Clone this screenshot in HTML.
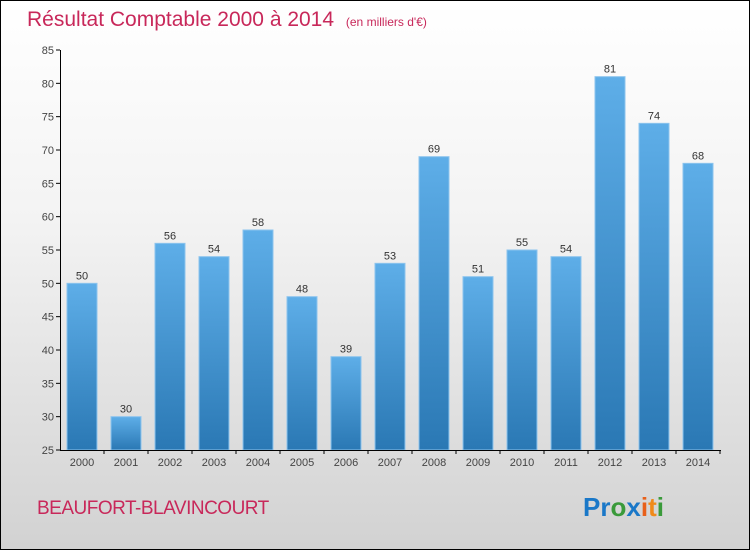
<!DOCTYPE html>
<html><head><meta charset="utf-8"><style>
body{margin:0}
#c{width:748px;height:548px;border:1px solid #000;position:relative;background:linear-gradient(#fff 0%,#f3f3f3 40%,#d2d2d2 100%);font-family:"Liberation Sans",sans-serif;overflow:hidden}
</style></head><body>
<div id="c">
<svg width="748" height="548" id="s">
<defs><linearGradient id="g" x1="0" y1="0" x2="0" y2="1"><stop offset="0" stop-color="#5eaee8"/><stop offset="1" stop-color="#2a78b4"/></linearGradient></defs>
<text x="26" y="25" font-size="21" fill="#c8285a">Résultat Comptable 2000 à 2014 <tspan font-size="12" dx="6">(en milliers d'€)</tspan></text>
<text x="36" y="513" font-size="19" fill="#c8285a" letter-spacing="-0.5">BEAUFORT-BLAVINCOURT</text>
<text x="582" y="515" font-size="26" font-weight="bold"><tspan fill="#1a78c8">Pr</tspan><tspan fill="#3a9a3a">o</tspan><tspan fill="#1a78c8">x</tspan><tspan fill="#e8601a">i</tspan><tspan fill="#f08a1a">t</tspan><tspan fill="#3a9a3a">i</tspan></text>
</svg>
</div>
<script>
const years=["2000","2001","2002","2003","2004","2005","2006","2007","2008","2009","2010","2011","2012","2013","2014"];
const values=[50,30,56,54,58,48,39,53,69,51,55,54,81,74,68];
const ticks=[25,30,35,40,45,50,55,60,65,70,75,80,85];
const s=document.getElementById('s');
const NS="http://www.w3.org/2000/svg";
const y=v=>449-(v-25)*400/60;
const x=i=>81+i*44;
function mk(t,a){const e=document.createElementNS(NS,t);for(const k in a)e.setAttribute(k,a[k]);s.appendChild(e);return e;}
ticks.forEach(t=>{
const l=mk('line',{x1:55,x2:59,y1:y(t),y2:y(t),stroke:'#000'});


const tx=mk('text',{x:53,y:y(t)+4,'font-size':11,fill:'#444','text-anchor':'end'});tx.textContent=t;


});
values.forEach((v,i)=>{
const r=mk('rect',{x:x(i)-15,y:y(v),width:30,height:y(25)-y(v),fill:'url(#g)',stroke:'#8cc4ee','stroke-width':1});


const t=mk('text',{x:x(i),y:y(v)-4,'font-size':11,fill:'#333','text-anchor':'middle'});t.textContent=v;


const yl=mk('text',{x:x(i),y:465,'font-size':11,fill:'#444','text-anchor':'middle'});yl.textContent=years[i];


const tk=mk('line',{x1:x(i)+22,x2:x(i)+22,y1:449,y2:453,stroke:'#000'});


});
const ya=mk('line',{x1:59.5,x2:59.5,y1:y(85),y2:450,stroke:'#000'});


const xa=mk('line',{x1:59,x2:720,y1:449.5,y2:449.5,stroke:'#000'});


</script>
</body></html>
